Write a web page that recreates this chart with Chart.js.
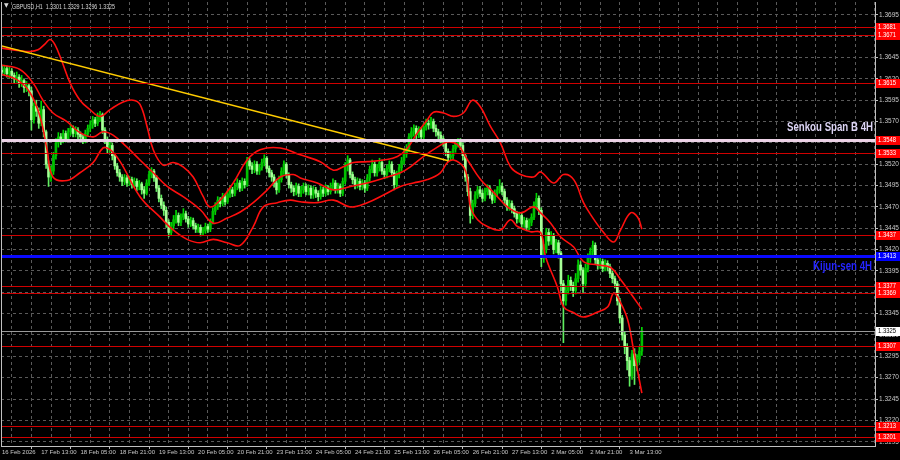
<!DOCTYPE html>
<html>
<head>
<meta charset="utf-8">
<script src="https://cdn.jsdelivr.net/npm/chart.js@4.4.1/dist/chart.umd.min.js"></script>
<style>
  body { margin:0; background:#000; }
  canvas { display:block; }
</style>
</head>
<body>
<canvas id="mychart" width="900" height="460"></canvas>
<script>
// GBPUSD H1 candles, prices in pips: 3628 -> 1.3628
var openP = [3630,3628,3632,3626,3629,3624,3620,3622,3615,3618,
3610,3612,3606,3572,3588,3582,3568,3584,3558,3520,
3505,3512,3530,3545,3552,3548,3556,3550,3558,3562,
3556,3560,3555,3552,3548,3556,3562,3566,3572,3568,
3576,3578,3560,3548,3538,3542,3530,3518,3510,3505,
3500,3504,3498,3502,3496,3500,3494,3497,3490,3486,
3498,3508,3512,3504,3492,3480,3472,3466,3452,3440,
3448,3455,3460,3452,3458,3462,3456,3450,3454,3448,
3444,3446,3440,3442,3447,3444,3452,3465,3470,3478,
3474,3482,3476,3485,3490,3486,3494,3498,3492,3500,
3496,3524,3518,3514,3520,3512,3516,3522,3527,3515,
3510,3505,3498,3490,3502,3512,3520,3508,3496,3492,
3488,3494,3486,3490,3494,3488,3492,3484,3490,3486,
3482,3490,3486,3492,3488,3494,3498,3490,3494,3486,
3500,3518,3525,3508,3502,3496,3500,3494,3498,3492,
3504,3514,3520,3510,3516,3522,3512,3508,3515,3520,
3510,3496,3508,3516,3524,3532,3538,3552,3558,3562,
3555,3560,3552,3564,3568,3566,3570,3562,3558,3554,
3550,3546,3535,3528,3530,3538,3544,3546,3542,3530,
3505,3488,3460,3474,3484,3490,3486,3480,3488,3492,
3484,3478,3486,3490,3494,3488,3478,3470,3474,3468,
3462,3456,3460,3450,3454,3446,3452,3458,3472,3480,
3466,3410,3420,3440,3430,3436,3420,3428,3416,3380,
3360,3372,3384,3378,3372,3386,3402,3396,3380,3398,
3410,3418,3425,3408,3402,3406,3398,3404,3400,3392,
3386,3380,3360,3340,3320,3306,3290,3272,3298,3284,
3292,3301];
var highP = [3636,3636,3635,3634,3632,3627,3628,3625,3624,3620,
3617,3614,3610,3592,3595,3586,3594,3588,3560,3524,
3518,3534,3550,3557,3556,3560,3559,3562,3567,3565,
3564,3563,3558,3555,3560,3566,3571,3576,3575,3580,
3582,3580,3563,3552,3547,3545,3533,3521,3514,3508,
3508,3507,3506,3505,3504,3503,3501,3499,3494,3502,
3512,3516,3514,3507,3495,3484,3476,3470,3455,3452,
3460,3466,3463,3462,3468,3465,3459,3458,3457,3451,
3450,3449,3446,3451,3450,3456,3469,3475,3482,3481,
3486,3485,3489,3494,3493,3498,3503,3501,3504,3503,
3528,3527,3522,3524,3523,3520,3526,3531,3529,3518,
3513,3508,3501,3506,3516,3524,3522,3510,3499,3495,
3498,3497,3494,3498,3497,3496,3495,3494,3493,3489,
3494,3493,3496,3495,3498,3503,3501,3498,3497,3504,
3522,3530,3527,3511,3505,3504,3503,3502,3501,3508,
3518,3525,3523,3520,3527,3525,3515,3519,3524,3523,
3513,3512,3520,3528,3537,3543,3556,3563,3566,3565,
3564,3563,3568,3573,3572,3575,3573,3566,3561,3558,
3553,3549,3538,3535,3542,3548,3550,3550,3545,3533,
3508,3492,3478,3488,3494,3494,3490,3492,3496,3495,
3487,3490,3494,3502,3498,3491,3481,3478,3477,3471,
3465,3464,3463,3458,3457,3456,3462,3476,3486,3483,
3469,3426,3445,3444,3441,3439,3432,3431,3418,3384,
3378,3390,3388,3382,3392,3408,3406,3399,3403,3415,
3422,3430,3428,3412,3410,3409,3408,3407,3403,3395,
3389,3383,3363,3343,3324,3310,3294,3302,3304,3297,
3306,3329];
var lowP = [3624,3625,3622,3621,3620,3615,3616,3610,3611,3604,
3605,3600,3560,3568,3576,3562,3565,3552,3515,3494,
3500,3508,3526,3540,3543,3545,3546,3547,3554,3552,
3552,3550,3547,3544,3545,3553,3558,3562,3564,3565,
3570,3556,3544,3533,3534,3525,3514,3506,3500,3495,
3496,3494,3495,3492,3493,3489,3490,3485,3480,3484,
3495,3504,3500,3488,3476,3468,3460,3446,3435,3437,
3444,3451,3448,3448,3455,3452,3446,3447,3444,3440,
3440,3436,3437,3439,3440,3441,3450,3461,3467,3470,
3471,3472,3474,3481,3482,3483,3490,3488,3489,3492,
3494,3514,3509,3510,3508,3508,3513,3518,3511,3505,
3500,3493,3485,3487,3499,3508,3504,3492,3487,3483,
3484,3482,3482,3486,3484,3484,3480,3480,3481,3477,
3479,3482,3483,3484,3485,3490,3486,3486,3482,3483,
3497,3512,3504,3497,3491,3492,3490,3490,3487,3489,
3500,3510,3506,3506,3512,3508,3503,3504,3511,3506,
3490,3493,3504,3512,3520,3528,3535,3548,3553,3550,
3551,3548,3549,3560,3561,3562,3558,3553,3549,3545,
3541,3530,3523,3524,3526,3534,3540,3537,3525,3500,
3483,3451,3456,3470,3480,3482,3476,3477,3484,3480,
3474,3475,3482,3486,3484,3472,3466,3466,3463,3458,
3451,3452,3446,3446,3442,3443,3448,3455,3468,3461,
3400,3405,3416,3425,3426,3415,3416,3410,3372,3311,
3355,3368,3372,3365,3368,3382,3390,3370,3376,3394,
3405,3412,3403,3397,3398,3394,3395,3395,3387,3381,
3375,3355,3334,3314,3298,3279,3260,3268,3262,3278,
3288,3296];
var closeP = [3628,3632,3626,3629,3624,3620,3622,3615,3618,3610,
3612,3606,3572,3588,3582,3568,3584,3558,3520,3505,
3512,3530,3545,3552,3548,3556,3550,3558,3562,3556,
3560,3555,3552,3548,3556,3562,3566,3572,3568,3576,
3578,3560,3548,3538,3542,3530,3518,3510,3505,3500,
3504,3498,3502,3496,3500,3494,3497,3490,3486,3498,
3508,3512,3504,3492,3480,3472,3466,3452,3440,3448,
3455,3460,3452,3458,3462,3456,3450,3454,3448,3444,
3446,3440,3442,3447,3444,3452,3465,3470,3478,3474,
3482,3476,3485,3490,3486,3494,3498,3492,3500,3496,
3524,3518,3514,3520,3512,3516,3522,3527,3515,3510,
3505,3498,3490,3502,3512,3520,3508,3496,3492,3488,
3494,3486,3490,3494,3488,3492,3484,3490,3486,3482,
3490,3486,3492,3488,3494,3498,3490,3494,3486,3500,
3518,3525,3508,3502,3496,3500,3494,3498,3492,3504,
3514,3520,3510,3516,3522,3512,3508,3515,3520,3510,
3496,3508,3516,3524,3532,3538,3552,3558,3562,3555,
3560,3552,3564,3568,3566,3570,3562,3558,3554,3550,
3546,3535,3528,3530,3538,3544,3546,3542,3530,3505,
3488,3460,3474,3484,3490,3486,3480,3488,3492,3484,
3478,3486,3490,3494,3488,3478,3470,3474,3468,3462,
3456,3460,3450,3454,3446,3452,3458,3472,3480,3466,
3410,3420,3440,3430,3436,3420,3428,3416,3380,3360,
3372,3384,3378,3372,3386,3402,3396,3380,3398,3410,
3418,3425,3408,3402,3406,3398,3404,3400,3392,3386,
3380,3360,3340,3320,3306,3290,3272,3298,3284,3292,
3301,3325];

// indicator curves [bar index, pips]
var upperBand = [[0,3656],[7.3,3653],[11.4,3652],[14.7,3654],[17.6,3661],[19.6,3666],[21.6,3660],[24.5,3640],[27.8,3615],[31.8,3595],[35.9,3584],[40,3576],[44.1,3584],[49.4,3593],[53.5,3595],[56.3,3590],[59.2,3564],[61.7,3537],[65.7,3519],[69.8,3522],[73.9,3517],[78,3505],[82.1,3482],[84.9,3470],[89,3478],[94.3,3498],[100,3525],[105.3,3537],[113.5,3539],[121.7,3531],[129.8,3523],[135.2,3513],[139.2,3517],[143.3,3522],[149,3523],[155.6,3525],[161.3,3529],[165.4,3539],[169.5,3557],[173.5,3572],[176,3581],[180.1,3580],[184.2,3576],[188.2,3580],[191.9,3595],[195.2,3587],[199.3,3564],[203.3,3545],[207.4,3517],[211.5,3508],[216.8,3505],[219.7,3511],[225,3498],[229.1,3508],[233.2,3502],[237.2,3475],[240.1,3461],[245.4,3440],[249.5,3429],[252.3,3443],[256.4,3463],[259.3,3458],[261,3444]];
var midBand = [[0,3636],[7.3,3631],[12.7,3615],[16.7,3595],[20.8,3580],[26.5,3570],[31.8,3557],[37.2,3552],[41.2,3558],[45.3,3554],[51,3540],[56.3,3525],[61.7,3510],[67.4,3494],[73.9,3482],[80.8,3467],[86.2,3451],[91.9,3457],[97.2,3464],[102.5,3475],[108.2,3490],[113.5,3505],[118.8,3508],[121.7,3504],[128.6,3498],[135.2,3490],[142.1,3494],[149,3498],[157.2,3505],[162.5,3510],[166.6,3517],[171.9,3529],[177.6,3540],[181.7,3546],[185.8,3543],[189.9,3525],[195.2,3502],[200.5,3487],[206.2,3470],[211.5,3463],[216.8,3470],[219.7,3463],[223.8,3451],[227.8,3435],[233.2,3423],[237.2,3406],[243,3402],[248.3,3399],[252.3,3385],[256.4,3369],[261,3350]];
var lowerBand = [[0,3625],[6.1,3619],[11.4,3604],[15.5,3576],[18.4,3537],[20.8,3505],[26.5,3501],[31.8,3510],[37.2,3522],[41.2,3539],[44.1,3537],[48.2,3523],[56.3,3482],[64.5,3458],[69.8,3443],[75.5,3432],[80.8,3428],[86.2,3432],[91.9,3428],[97.2,3425],[102.5,3447],[106.6,3470],[112.3,3475],[117.6,3478],[121.7,3476],[128.6,3475],[135.2,3478],[142.1,3470],[149,3475],[155.6,3484],[162.5,3494],[167.8,3498],[173.5,3502],[178.8,3510],[181.7,3522],[184.2,3525],[188.2,3517],[189.9,3502],[191.1,3470],[194,3455],[198,3447],[203.3,3443],[207.4,3455],[210.3,3447],[215.6,3441],[219.7,3440],[221.7,3412],[226.6,3376],[229.1,3353],[233.2,3346],[237.2,3341],[243,3347],[247.1,3353],[249.5,3369],[252.3,3358],[255.2,3338],[257.6,3303],[261,3252]];
var trendLine = [[-0.8,3659],[182,3524]];

// horizontal levels
var redLevels = [1.3681,1.3671,1.3615,1.3533,1.3437,1.3377,1.3369,1.3307,1.3213,1.3201];
var senkouB = 1.3548;
var kijun = 1.3413;
var lastPrice = 1.3325;

var yTicks = [1.3195,1.3220,1.3245,1.3270,1.3295,1.3320,1.3345,1.3370,1.3395,1.3420,1.3445,1.3470,1.3495,1.3520,1.3545,1.3570,1.3595,1.3620,1.3645,1.3670,1.3695];
var xLabels = ['16 Feb 2026','17 Feb 13:00','18 Feb 05:00','18 Feb 21:00','19 Feb 13:00','20 Feb 05:00','20 Feb 21:00','23 Feb 13:00','24 Feb 05:00','24 Feb 21:00','25 Feb 13:00','26 Feb 05:00','26 Feb 21:00','27 Feb 13:00','2 Mar 05:00','2 Mar 21:00','3 Mar 13:00'];

function px(p){ return 1 + p/10000; }

var wickData = [], bodyData = [];
for (var i=0;i<closeP.length;i++){
  wickData.push({x:i, y:[px(lowP[i]), px(highP[i])]});
  bodyData.push({x:i, y:[px(Math.min(openP[i],closeP[i])), px(Math.max(openP[i],closeP[i]))]});
}
function toXY(arr){ return arr.map(function(d){ return {x:d[0], y:px(d[1])}; }); }

function candleColor(c, up, down){
  var i = c.dataIndex;
  return closeP[i] >= openP[i] ? up : down;
}

var FONT = '"Liberation Sans", Arial, sans-serif';
var axisText = '#c8c8c8';
var gridCol = '#5a5a5a';

function fitText(ctx, txt, right, cy, width){
  var w = ctx.measureText(txt).width;
  ctx.save();
  ctx.translate(right - width, cy);
  ctx.scale(width / w, 1);
  ctx.textAlign = 'left';
  ctx.textBaseline = 'middle';
  ctx.fillText(txt, 0, 0);
  ctx.restore();
}

function hline(ctx, area, y, color, width){
  ctx.save();
  ctx.strokeStyle = color;
  ctx.lineWidth = width;
  ctx.beginPath();
  var yy = width % 2 ? Math.round(y) + 0.5 : Math.round(y);
  ctx.moveTo(area.left, yy);
  ctx.lineTo(area.right, yy);
  ctx.stroke();
  ctx.restore();
}

function priceBox(ctx, area, ys, v, bg, fg){
  var y = Math.round(ys.getPixelForValue(v));
  ctx.save();
  ctx.fillStyle = bg;
  ctx.fillRect(area.right + 1, y - 4, 24, 9);
  ctx.fillStyle = fg;
  ctx.font = '6.5px ' + FONT;
  fitText(ctx, v.toFixed(4), area.right + 21, y + 0.5, 18);
  ctx.restore();
}

var levelsPlugin = {
  id: 'levels',
  afterDatasetsDraw: function(chart){
    var ctx = chart.ctx, a = chart.chartArea, ys = chart.scales.y;
    redLevels.forEach(function(v){ hline(ctx, a, ys.getPixelForValue(v), '#d00000', 1); });
    hline(ctx, a, ys.getPixelForValue(lastPrice), '#9a9a9a', 1);
    hline(ctx, a, ys.getPixelForValue(senkouB), '#ecd2e6', 3);
    hline(ctx, a, ys.getPixelForValue(kijun), '#0a0aff', 3);
  },
  afterDraw: function(chart){
    var ctx = chart.ctx, a = chart.chartArea, ys = chart.scales.y;
    // left frame
    ctx.save();
    ctx.strokeStyle = '#c0c0c0';
    ctx.lineWidth = 1;
    ctx.beginPath();
    ctx.moveTo(a.left + 0.5, a.top);
    ctx.lineTo(a.left + 0.5, a.bottom);
    ctx.stroke();
    ctx.restore();

    redLevels.forEach(function(v){ priceBox(ctx, a, ys, v, '#ff0000', '#ffffff'); });
    priceBox(ctx, a, ys, senkouB, '#ff0000', '#ffffff');
    priceBox(ctx, a, ys, kijun, '#0000ff', '#ffffff');
    priceBox(ctx, a, ys, lastPrice, '#ffffff', '#000000');

    ctx.save();
    ctx.font = 'bold 12px ' + FONT;
    ctx.fillStyle = '#dcd4f4';
    fitText(ctx, 'Senkou Span B 4H', a.right - 2, ys.getPixelForValue(senkouB) - 12.5, 86);
    ctx.fillStyle = '#2424ff';
    fitText(ctx, 'Kijun-sen 4H', a.right - 3, ys.getPixelForValue(kijun) + 11, 59);

    // header line
    var n = closeP.length - 1;
    ctx.fillStyle = '#d8d8d8';
    ctx.font = '6px "DejaVu Sans", sans-serif';
    ctx.fillText('\u25BC', 4, 7);
    ctx.font = '7.5px ' + FONT;
    var head = 'GBPUSD,H1  ' + [openP[n],highP[n],lowP[n],closeP[n]].map(function(p){ return px(p).toFixed(4); }).join(' ');
    fitText(ctx, head, 115, 7, 103);
    ctx.restore();
  }
};

var ctx = document.getElementById('mychart').getContext('2d');
var myChart = new Chart(ctx, {
  type: 'bar',
  data: {
    datasets: [
      { type:'bar', data: wickData, barThickness:1, grouped:false, order:6,
        backgroundColor: function(c){ return candleColor(c, '#00d800', '#60ee60'); } },
      { type:'bar', data: bodyData, barThickness:2, minBarLength:1, grouped:false, order:5,
        backgroundColor: function(c){ return candleColor(c, '#00c000', '#a8ff98'); } },
      { type:'line', data: toXY(upperBand), borderColor:'#ff0f0f', borderWidth:1.6, pointRadius:0, tension:0.4, order:3 },
      { type:'line', data: toXY(midBand), borderColor:'#ff0f0f', borderWidth:1.6, pointRadius:0, tension:0.4, order:3 },
      { type:'line', data: toXY(lowerBand), borderColor:'#ff0f0f', borderWidth:1.6, pointRadius:0, tension:0.4, order:3 },
      { type:'line', data: toXY(trendLine), borderColor:'#ffcc00', borderWidth:1.6, pointRadius:0, order:1 }
    ]
  },
  options: {
    responsive: false,
    devicePixelRatio: 1,
    animation: false,
    layout: { padding: { left:1, top:2, right:0, bottom:0 } },
    plugins: { legend: { display:false }, tooltip: { enabled:false } },
    scales: {
      x: {
        type: 'linear', min: -0.4, max: 356.1, offset: false,
        afterBuildTicks: function(s){ var t=[]; for (var v=0; v<=352; v+=8) t.push({value:v}); s.ticks = t; },
        afterFit: function(s){ s.height = 14; s.paddingLeft = 0; s.paddingRight = 0; },
        ticks: {
          autoSkip:false, maxRotation:0, align:'start', padding:0, color: axisText,
          font: { family: FONT, size: 6 },
          callback: function(v){ return v % 16 === 0 ? (xLabels[v/16] || '') : ''; }
        },
        grid: {
          color: gridCol, tickLength: 3,
          tickColor: function(c){ return (c.tick && c.tick.value % 16 === 0 && c.tick.value <= 256) ? '#c0c0c0' : 'rgba(0,0,0,0)'; }
        },
        border: { display:true, color:'#c0c0c0', dash:[3,3] }
      },
      y: {
        type: 'linear', position: 'right', min: 1.3190, max: 1.3710,
        afterBuildTicks: function(s){ s.ticks = yTicks.map(function(v){ return {value:v}; }); },
        afterFit: function(s){ s.width = 25; s.paddingTop = 0; s.paddingBottom = 0; },
        ticks: { padding:1, color: axisText, font: { family: FONT, size: 6.5 },
          callback: function(v){ return v.toFixed(4); } },
        grid: { color: gridCol, tickLength: 3, tickColor:'#c0c0c0' },
        border: { display:true, color:'#c0c0c0', dash:[3,3] }
      }
    }
  },
  plugins: [levelsPlugin]
});
</script>
</body>
</html>
